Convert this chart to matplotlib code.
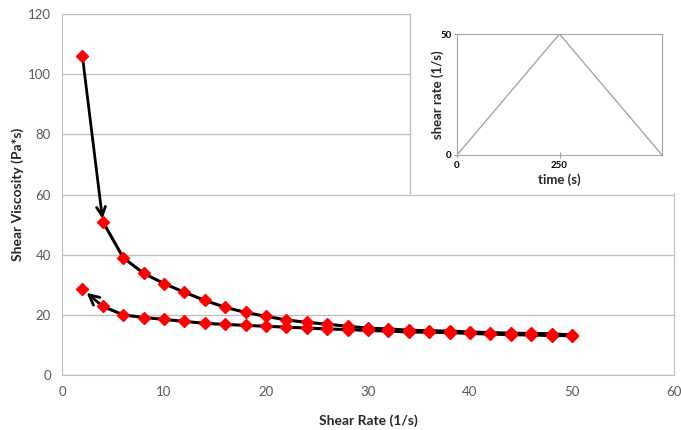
import matplotlib
matplotlib.use("Agg")
import matplotlib.pyplot as plt
from matplotlib.patches import Rectangle
from matplotlib.lines import Line2D

# 数据
shear_rate = [2, 4, 6, 8, 10, 12, 14, 16, 18, 20, 22, 24, 26,
              28, 30, 32, 34, 36, 38, 40, 42, 44, 46, 48, 50]
visc_up = [106.0, 51.0, 39.0, 33.8, 30.4, 27.5, 24.8, 22.5, 20.8, 19.5, 18.3, 17.5, 16.9,
           16.2, 15.6, 15.3, 14.9, 14.7, 14.6, 14.3, 14.1, 13.9, 13.8, 13.7, 13.3]
visc_down = [28.5, 22.8, 20.0, 19.1, 18.5, 17.8, 17.2, 16.8, 16.5, 16.2, 15.9, 15.6, 15.3,
             15.1, 14.8, 14.6, 14.3, 14.2, 14.1, 13.8, 13.6, 13.4, 13.3, 13.1, 13.1]

ramp_time = [0, 250, 500]
ramp_rate = [0, 50, 0]

plt.rcParams["font.family"] = ["Lato", "DejaVu Sans"]

GRID = "#BFBFBF"
TICK = "#595959"
LABEL = "#262626"

fig = plt.figure(figsize=(6.81, 4.30), dpi=100)
ax = fig.add_axes([62 / 681, 1 - 375 / 430, 612 / 681, 361 / 430])

# 曲線（矢印の区間は annotate で描く）
ax.plot(shear_rate[1:], visc_up[1:], color="black", lw=2.2, zorder=2)
ax.plot(shear_rate[1:], visc_down[1:], color="black", lw=2.2, zorder=2)
arrow = dict(arrowstyle="->", color="black", lw=2.0, mutation_scale=16,
             shrinkA=3, shrinkB=2)
ax.annotate("", xy=(shear_rate[1], visc_up[1]), xytext=(shear_rate[0], visc_up[0]),
            arrowprops=arrow, zorder=2)
arrow2 = dict(arrow, shrinkA=0, shrinkB=4, mutation_scale=18)
ax.annotate("", xy=(shear_rate[0], visc_down[0]), xytext=(shear_rate[1], visc_down[1]),
            arrowprops=arrow2, zorder=2)
ax.plot(shear_rate, visc_up, ls="none", marker="D", ms=6.3, color="red", zorder=3)
ax.plot(shear_rate, visc_down, ls="none", marker="D", ms=6.3, color="red", zorder=3)

ax.set_xlim(0, 60)
ax.set_ylim(0, 120)
ax.set_xticks(range(0, 61, 10))
ax.set_yticks(range(0, 121, 20))
ax.grid(axis="y", color=GRID, lw=1)
ax.set_axisbelow(True)
ax.tick_params(length=0, labelsize=9.5, labelcolor=TICK, pad=8)
for s in ax.spines.values():
    s.set_color(GRID)
ax.set_xlabel("Shear Rate (1/s)", fontsize=10, fontweight="bold", color=LABEL, labelpad=12)
ax.set_ylabel("Shear Viscosity (Pa*s)", fontsize=10, fontweight="bold", color=LABEL, labelpad=3)

# 挿入図の白い背景と左の枠線
x0 = 410 / 681
y_bot = 1 - 193.5 / 430
y_top = 1 - 14 / 430
fig.add_artist(Rectangle((x0, y_bot), 0.5, 0.6, transform=fig.transFigure,
                         facecolor="white", edgecolor="none", zorder=1))
fig.add_artist(Line2D([x0, x0], [y_bot, y_top], transform=fig.transFigure,
                      color=GRID, lw=1, zorder=1.1))

ins = fig.add_axes([457 / 681, 1 - 155 / 430, 205 / 681, 121 / 430])
ins.set_zorder(2)
ins.plot(ramp_time, ramp_rate, color="#A6A6A6", lw=1)
ins.set_xlim(0, 500)
ins.set_ylim(0, 50)
ins.set_xticks([0, 250])
ins.set_yticks([0, 50])
ins.tick_params(direction="inout", length=4, color="#A6A6A6", labelsize=7, pad=2)
for lab in ins.get_xticklabels() + ins.get_yticklabels():
    lab.set_fontweight("bold")
for s in ins.spines.values():
    s.set_color("#A6A6A6")
ins.set_xlabel("time (s)", fontsize=9.5, fontweight="bold", color=LABEL, labelpad=3)
ins.set_ylabel("shear rate (1/s)", fontsize=9.5, fontweight="bold", color=LABEL, labelpad=-3)

fig.savefig("out.png", dpi=100)
plt.close(fig)
